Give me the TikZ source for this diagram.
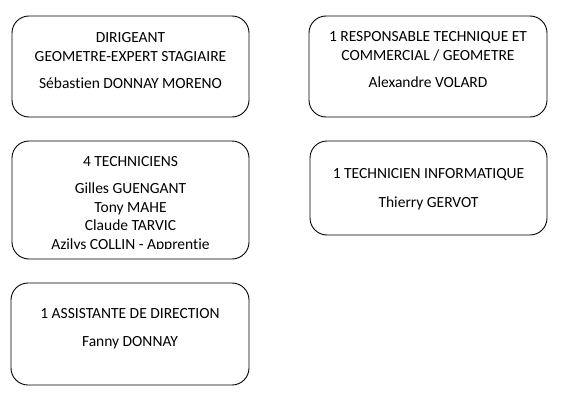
\documentclass[tikz,border=0pt]{standalone}
\usepackage{fontspec}
\setmainfont[Ligatures={CommonOff}]{Carlito}
\usetikzlibrary{positioning}
\tikzset{
  cadre/.style={draw, rounded corners=17pt, line width=0.9pt, minimum width=237pt, inner sep=0pt},
  texte/.style={align=center, inner sep=0pt, font=\fontsize{15.5}{18.5}\selectfont}
}
\begin{document}
\begin{tikzpicture}[x=1pt,y=-1pt]
\useasboundingbox (0,0) rectangle (575,404);
%% colonne de gauche
\node[cadre, minimum height=101pt] (dirigeant) at (130.5,66.5) {};
\node[texte, below=17pt of dirigeant.north] (t-dirigeant)
  {DIRIGEANT\\GEOMETRE-EXPERT STAGIAIRE\\[8.5pt]Sébastien DONNAY MORENO};
\node[cadre, minimum height=118pt] (techniciens) at (130.5,200) {};
\begin{scope}
  \clip (techniciens.north west) rectangle ([yshift=11pt]techniciens.south east);
  \node[texte, below=16pt of techniciens.north] (t-techniciens)
    {4 TECHNICIENS\\[8.5pt]Gilles GUENGANT\\Tony MAHE\\Claude TARVIC\\Azilys COLLIN - Apprentie};
\end{scope}
\node[cadre, minimum width=238pt, minimum height=102pt] (assistante) at (130,334) {};
\node[texte, below=26pt of assistante.north] (t-assistante)
  {1 ASSISTANTE DE DIRECTION\\[9.5pt]Fanny DONNAY};
%% colonne de droite
\node[cadre, minimum width=238pt, minimum height=101pt] (responsable) at (428,66.5) {};
\node[texte, below=16pt of responsable.north] (t-responsable)
  {1 RESPONSABLE TECHNIQUE ET\\COMMERCIAL / GEOMETRE\\[8.5pt]Alexandre VOLARD};
\node[cadre, minimum height=94pt] (informatique) at (428.5,188) {};
\node[texte, below=27.5pt of informatique.north] (t-informatique)
  {1 TECHNICIEN INFORMATIQUE\\[10.5pt]Thierry GERVOT};
\end{tikzpicture}
\end{document}
